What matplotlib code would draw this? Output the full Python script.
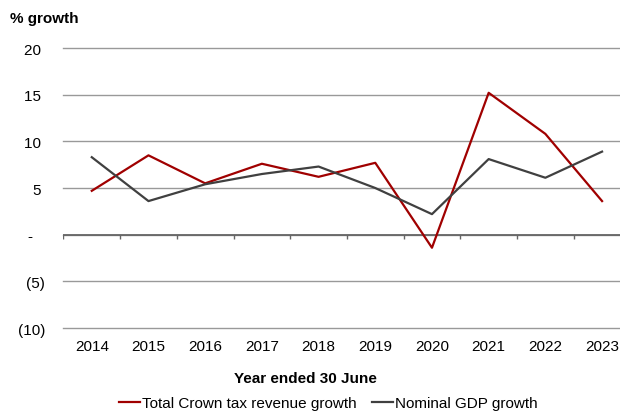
import matplotlib
matplotlib.use("Agg")
import matplotlib.pyplot as plt

plt.rcParams['font.family'] = ['Liberation Sans', 'DejaVu Sans']
plt.rcParams['font.size'] = 11

# Annual growth rates, year ended 30 June
years = ['2014', '2015', '2016', '2017', '2018', '2019', '2020', '2021', '2022', '2023']
tax_growth = [4.7, 8.5, 5.5, 7.6, 6.2, 7.7, -1.4, 15.2, 10.8, 3.6]
gdp_growth = [8.3, 3.6, 5.4, 6.5, 7.3, 5.0, 2.2, 8.1, 6.1, 8.9]
y_ticks = [-10, -5, 0, 5, 10, 15, 20]
y_tick_labels = ['(10)', '(5)', '-\u2007\u2008', '5\u2008', '10\u2008', '15\u2008', '20\u2008']

RED = '#A00000'
GREY = '#404040'

fig = plt.figure(figsize=(6.2, 4.14), dpi=100)
ax = fig.add_axes([0.1023, 0.2053, 0.9145, 0.6763])

x = list(range(len(years)))
ax.plot(x, tax_growth, color=RED, lw=1.6, label='Total Crown tax revenue growth', zorder=3)
ax.plot(x, gdp_growth, color=GREY, lw=1.6, label='Nominal GDP growth', zorder=3)

ax.set_xlim(-0.5, len(years) - 0.5)
ax.set_ylim(-10, 20)
ax.set_yticks(y_ticks)
ax.set_yticklabels(y_tick_labels)
ax.tick_params(axis='y', length=0, pad=13)

ax.set_xticks(x)
ax.set_xticklabels(years)
ax.tick_params(axis='x', length=0, pad=8)

ax.grid(axis='y', color='#999999', lw=1.0)
for line in ax.get_ygridlines():
    line.set_clip_on(False)
ax.set_axisbelow(True)
for side in ['top', 'right', 'left', 'bottom']:
    ax.spines[side].set_visible(False)

# zero axis line with tick marks at the category boundaries
boundaries = [i - 0.5 for i in range(len(years) + 1)]
ax.axhline(0, color='#666666', lw=1.3, zorder=2)
ax.vlines(boundaries, -0.45, 0, color='#666666', lw=1.0, zorder=2)

fig.text(10 / 620, 1 - 19 / 414, '% growth', fontsize=11, fontweight='bold', va='center', ha='left')
fig.text(305 / 620, 1 - 379 / 414, 'Year ended 30 June', fontsize=11, fontweight='bold', va='center', ha='center')

fig.legend(loc='center', bbox_to_anchor=(328 / 620, 1 - 404 / 414), ncol=2, frameon=False,
           handlelength=1.4, handletextpad=0.1, columnspacing=1.0, fontsize=11)

fig.savefig('out.png', dpi=100)
